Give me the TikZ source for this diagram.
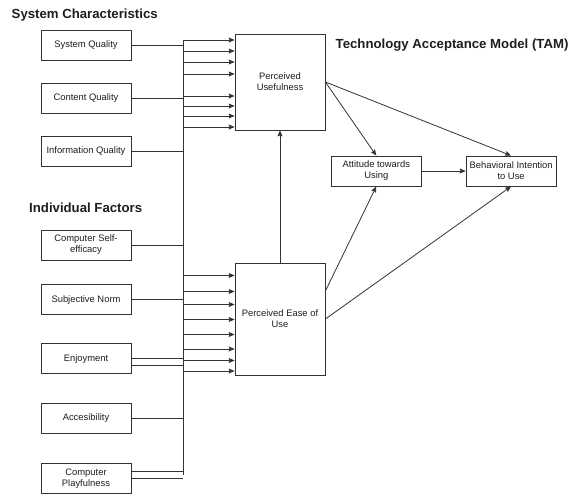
\documentclass[tikz,border=0pt]{standalone}
\usepackage{fontspec}
\setmainfont{Liberation Sans}
\usepackage{tikz}
\usetikzlibrary{arrows.meta,positioning}
\definecolor{tamline}{HTML}{333333}
\definecolor{tamtext}{HTML}{1E1E1E}
\tikzset{
    factor/.style={
        rectangle, draw=tamline, fill=white,
        line width=0.8pt, inner sep=2pt,
        minimum width=90pt, minimum height=30pt,
        align=center, text=tamtext,
        font=\fontsize{9.4}{11}\selectfont
    },
    construct/.style={factor},
    heading/.style={
        anchor=west, inner sep=0pt, text=tamtext,
        font=\fontsize{13.2}{15}\selectfont\bfseries
    },
    link/.style={draw=tamline, line width=0.8pt},
    arrow/.style={link, ->, >={Stealth[length=6pt,width=5pt,inset=1pt]}},
}

\begin{document}
\begin{tikzpicture}[x=1pt, y=-1pt]

    \useasboundingbox (0,0) rectangle (570,493);

    % Headings
    \node[heading] (sysc) at (11.5,15.5) {System Characteristics};
    \node[heading] (indf) at (29,208) {Individual Factors};
    \node[heading] (tamh) at (335.5,45) {Technology Acceptance Model (TAM)};

    % Nodes (system characteristics)
    \node[factor] (sq) at (86,45.5) {System Quality};
    \node[factor, below=22pt of sq] (cq) {Content Quality};
    \node[factor, below=22pt of cq] (iq) {Information Quality};

    % Nodes (individual factors)
    \node[factor] (cse) at (86,245) {Computer Self-\\efficacy};
    \node[factor, below=24pt of cse] (sn) {Subjective Norm};
    \node[factor, below=28pt of sn] (en) {Enjoyment};
    \node[factor, below=29pt of en] (ac) {Accesibility};
    \node[factor, below=29pt of ac] (cp) {Computer\\Playfulness};

    % Nodes (TAM)
    \node[construct, minimum height=96pt] (pu) at (280,82)
        {Perceived\\Usefulness};
    \node[construct, minimum height=112pt] (peou) at (280,319)
        {Perceived Ease of\\Use};
    \node[factor] (att) at (376.3,171) {Attitude towards\\Using};
    \node[factor, right=44pt of att] (bi) {Behavioral Intention\\to Use};

    % Collecting line
    \coordinate (bustop) at (183,40);
    \coordinate (busbot) at (183,475);
    \draw[link] (bustop) -- (busbot);

    \foreach \f in {sq,cq,iq,cse,sn,en,ac,cp}
        \draw[link] (\f.east) -- (\f.east -| bustop);
    \draw[link] ([yshift=-7pt]en.east) -- ([yshift=-7pt]en.east -| bustop);
    \draw[link] ([yshift=7pt]cp.east) -- ([yshift=7pt]cp.east -| bustop);

    % Arrows (into the constructs)
    \foreach \y in {40,51,62,74,96,106,116,127}
        \draw[arrow] (bustop |- 0,\y) -- (pu.west |- 0,\y);
    \foreach \y in {275.5,291.5,304.5,319.5,334.5,349,360.5,371}
        \draw[arrow] (bustop |- 0,\y) -- (peou.west |- 0,\y);

    % Arrows (TAM)
    \draw[arrow] (peou) -- (pu);
    \draw[arrow] (pu.east) -- (att.north);
    \draw[arrow] (pu.east) -- (bi.north);
    \draw[arrow] (att) -- (bi);
    \draw[arrow] ([yshift=28pt]peou.east) -- (att.south);
    \draw[arrow] (peou.east) -- (bi.south);

\end{tikzpicture}
\end{document}
